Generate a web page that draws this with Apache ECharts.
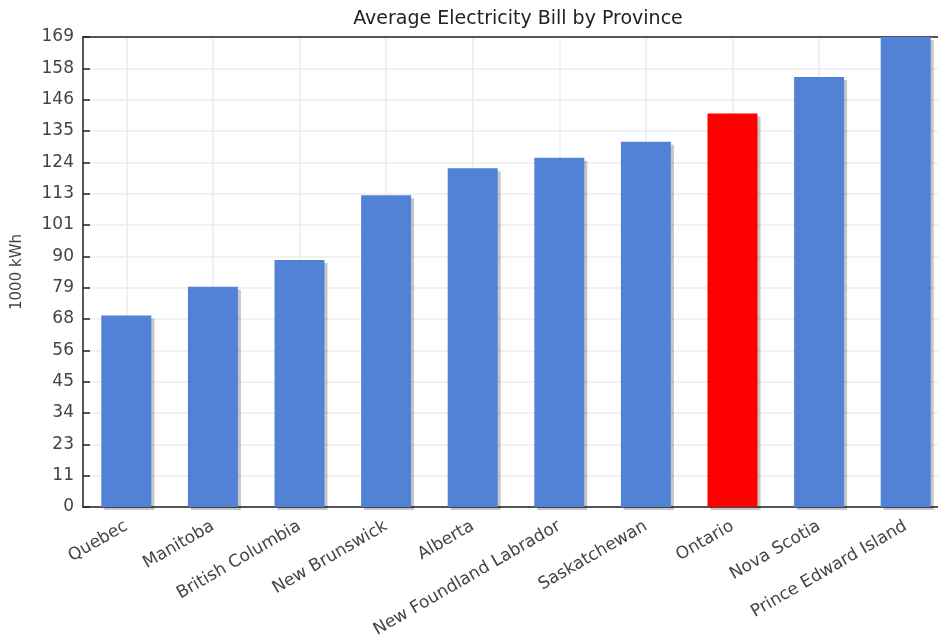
<!DOCTYPE html>
<html>
<head>
<meta charset="utf-8">
<title>Average Electricity Bill by Province</title>
<script src="https://cdn.jsdelivr.net/npm/echarts@6/dist/echarts.min.js"></script>
<style>
  html, body { margin: 0; padding: 0; background: #fff; overflow: hidden; }
  /* 图表比窗口宽一点, 右边被裁掉 */
  #chart { width: 960px; height: 642px; }
</style>
</head>
<body>
<div id="chart"></div>
<script>
// data
const provinces = ['Quebec', 'Manitoba', 'British Columbia', 'New Brunswick', 'Alberta',
    'New Foundland Labrador', 'Saskatchewan', 'Ontario', 'Nova Scotia', 'Prince Edward Island'];
const bills = [68.9, 79.2, 88.8, 112.1, 121.8, 125.6, 131.3, 141.5, 154.6, 169];
const highlight = 'Ontario';
const yTickLabels = ['0', '11', '23', '34', '45', '56', '68', '79', '90', '101', '113', '124', '135', '146', '158', '169'];

const yMax = 169;
const yStep = yMax / (yTickLabels.length - 1);

const font = 'DejaVu Sans';
const axisColor = '#222';

const chart = echarts.init(document.getElementById('chart'));

chart.setOption({
    animation: false,
    title: {
        text: 'Average Electricity Bill by Province',
        left: 513,
        textAlign: 'center',
        top: 5,
        textStyle: {
            fontFamily: font,
            fontSize: 19,
            fontWeight: 'normal',
            color: '#222'
        }
    },
    grid: {
        left: 83,
        top: 37,
        right: 11,
        bottom: 135
    },
    xAxis: [{
        type: 'category',
        data: provinces,
        axisLine: {show: true, lineStyle: {color: axisColor, width: 1.5}},
        axisTick: {show: false},
        splitLine: {
            show: true,
            alignWithLabel: true, //竖网格线放在柱子中间
            lineStyle: {color: '#ececec', width: 1.5}
        },
        axisLabel: {
            rotate: 30,
            margin: 18,
            interval: 0,
            fontFamily: font,
            fontSize: 17,
            color: '#444'
        }
    }, {
        // 只画顶上那条黑线
        type: 'category',
        position: 'top',
        data: provinces,
        axisLine: {show: true, onZero: false, lineStyle: {color: axisColor, width: 1.5}},
        axisTick: {show: false},
        axisLabel: {show: false},
        splitLine: {show: false}
    }],
    yAxis: {
        type: 'value',
        min: 0,
        max: yMax,
        interval: yStep,
        name: '1000 kWh',
        nameLocation: 'middle',
        nameGap: 58,
        nameTextStyle: {
            fontFamily: font,
            fontSize: 15,
            color: '#444'
        },
        axisLine: {show: true, lineStyle: {color: axisColor, width: 1.5}},
        axisTick: {
            show: true,
            inside: true,
            length: 7,
            lineStyle: {color: axisColor, width: 1.5}
        },
        splitLine: {
            show: true,
            lineStyle: {color: '#ececec', width: 1.5}
        },
        axisLabel: {
            margin: 9,
            fontFamily: font,
            fontSize: 17,
            color: '#444',
            formatter: function (v) {
                return yTickLabels[Math.round(v / yStep)];
            }
        }
    },
    series: [{
        type: 'bar',
        xAxisIndex: 0,
        barWidth: 50,
        data: bills.map(function (v, i) {
            return {
                value: v,
                itemStyle: {color: provinces[i] === highlight ? '#ff0000' : '#5282d6'}
            };
        }),
        itemStyle: {
            shadowColor: 'rgba(0,0,0,0.22)',
            shadowBlur: 0,
            shadowOffsetX: 3,
            shadowOffsetY: 3
        }
    }]
});
</script>
</body>
</html>
